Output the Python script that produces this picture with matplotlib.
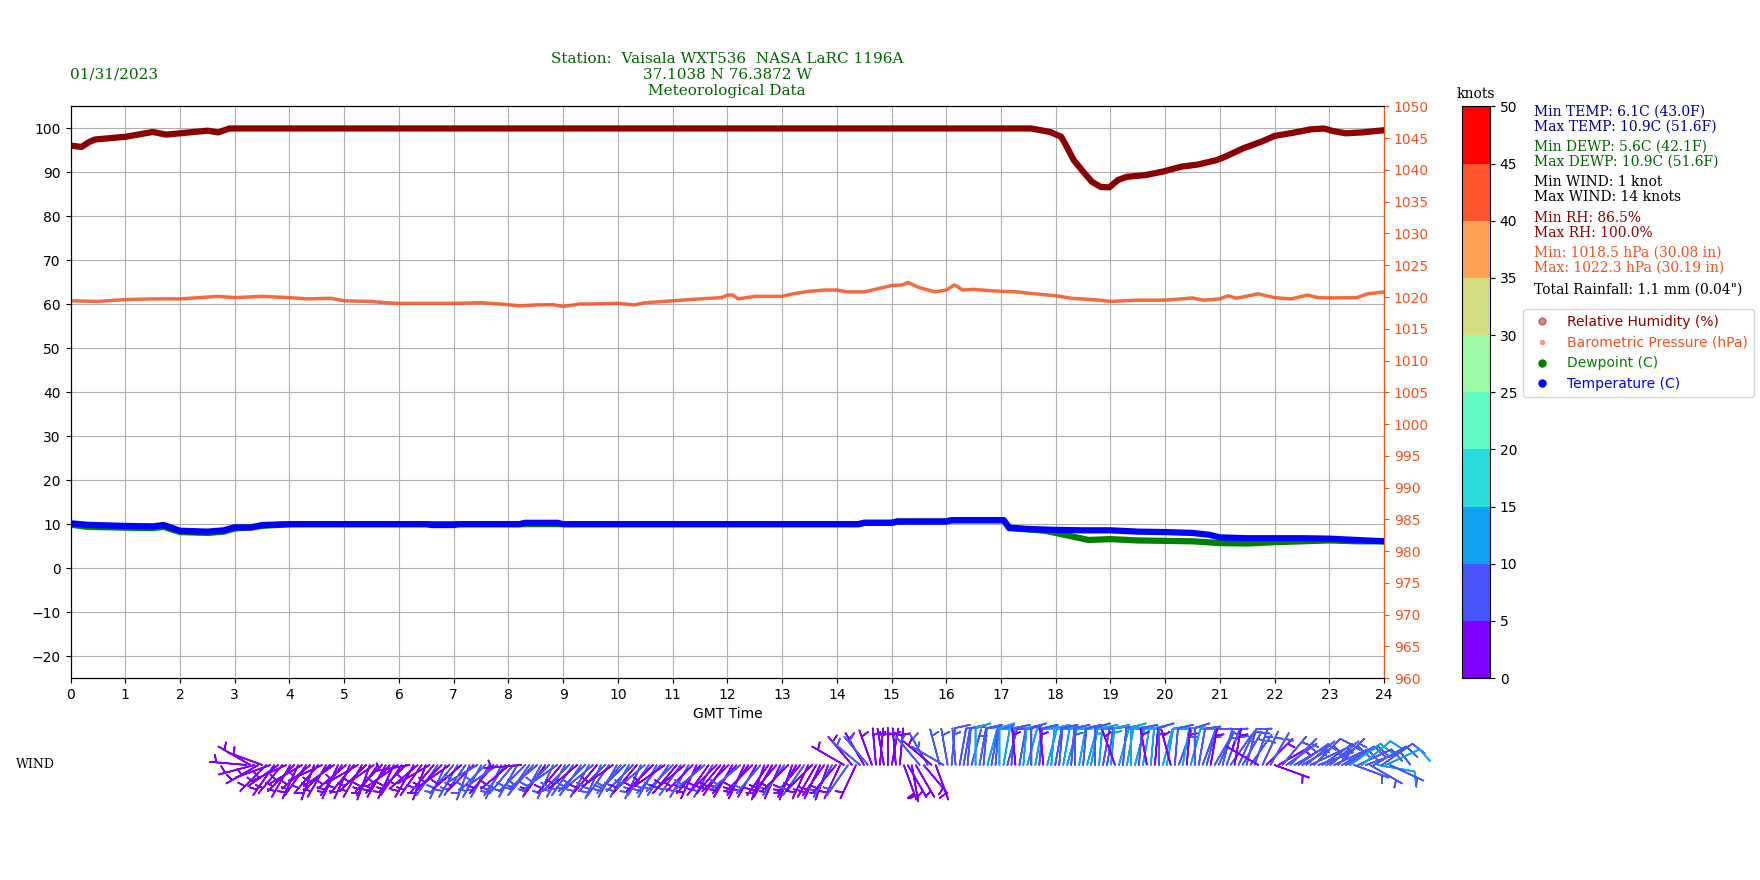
import numpy as np
import matplotlib
matplotlib.use('Agg')
import matplotlib.pyplot as plt
from matplotlib.colors import ListedColormap, BoundaryNorm
from matplotlib.cm import ScalarMappable
from matplotlib.lines import Line2D

# relative humidity (%)
rh_time = [0, 0.2, 0.35, 0.45, 1.0, 1.5, 1.75, 2.0, 2.5, 2.7, 2.9, 17.55, 17.9, 18.1, 18.17,
           18.33, 18.5, 18.66, 18.82, 18.98, 19.14, 19.3, 19.64, 19.96, 20.29, 20.6, 20.94,
           21.1, 21.43, 21.76, 22.0, 22.33, 22.66, 22.9, 23.07, 23.3, 23.6, 24.0]
rh_val = [96.1, 95.8, 97.0, 97.5, 98.1, 99.2, 98.6, 98.9, 99.5, 99.1, 100, 100, 99.2, 98.1, 96.6,
          92.8, 90.2, 87.9, 86.7, 86.6, 88.3, 89.0, 89.4, 90.2, 91.3, 91.8, 92.8,
          93.6, 95.5, 97.0, 98.3, 99.0, 99.8, 100, 99.4, 98.9, 99.1, 99.6]

# barometric pressure (hPa)
p_time = [0, 0.5, 1.0, 1.5, 2.0, 2.7, 3.0, 3.5, 4.0, 4.3, 4.75, 5.0, 5.5, 5.75, 6.0, 7.0, 7.5,
          8.0, 8.2, 8.5, 8.8, 9.0, 9.3, 9.5, 10.0, 10.3, 10.5, 11.0, 11.5, 11.9, 12.0, 12.1,
          12.2, 12.5, 13.0, 13.2, 13.5, 13.8, 14.0, 14.2, 14.5, 14.7, 15.0, 15.2, 15.3, 15.5,
          15.8, 16.0, 16.15, 16.3, 16.5, 16.8, 17.0, 17.3, 17.5, 18.0, 18.3, 18.8, 19.0, 19.5,
          20.0, 20.5, 20.7, 21.0, 21.15, 21.3, 21.7, 22.0, 22.3, 22.6, 22.8, 23.0, 23.5, 23.7, 24.0]
p_val = [1019.4, 1019.3, 1019.6, 1019.7, 1019.7, 1020.1, 1019.9, 1020.1, 1019.9, 1019.7, 1019.8,
         1019.4, 1019.3, 1019.1, 1019.0, 1019.0, 1019.1, 1018.8, 1018.6, 1018.75, 1018.8, 1018.5,
         1018.9, 1018.9, 1019.0, 1018.75, 1019.1, 1019.4, 1019.7, 1019.9, 1020.3, 1020.3,
         1019.7, 1020.1, 1020.1, 1020.5, 1020.9, 1021.1, 1021.1, 1020.8, 1020.8, 1021.2, 1021.8,
         1021.9, 1022.3, 1021.5, 1020.8, 1021.1, 1021.9, 1021.1, 1021.2, 1021.0, 1020.9,
         1020.8, 1020.6, 1020.2, 1019.8, 1019.5, 1019.3, 1019.5, 1019.5, 1019.85, 1019.5,
         1019.7, 1020.2, 1019.8, 1020.5, 1019.9, 1019.7, 1020.3, 1019.9, 1019.85, 1019.9,
         1020.5, 1020.8]

# temperature (C)
t_time = [0, 0.3, 1.0, 1.5, 1.7, 2.0, 2.5, 2.8, 3.0, 3.3, 3.5, 4.0, 6.5, 6.6, 7.0, 7.1, 8.2, 8.3,
          8.9, 9.0, 14.4, 14.5, 15.0, 15.1, 16.0, 16.1, 17.05, 17.15, 17.5, 18.0, 18.5, 19.0,
          19.5, 20.0, 20.5, 20.8, 21.0, 21.5, 22.0, 22.5, 23.0, 23.5, 24.0]
t_val = [10.2, 9.85, 9.6, 9.5, 9.8, 8.5, 8.3, 8.6, 9.3, 9.2, 9.8, 10.0, 10.0, 9.8, 9.8, 10.0,
         10.0, 10.3, 10.3, 10.0, 10.0, 10.3, 10.3, 10.6, 10.6, 10.9, 10.9, 9.2, 8.9, 8.7, 8.6,
         8.6, 8.3, 8.2, 8.0, 7.6, 7.0, 6.8, 6.8, 6.8, 6.7, 6.4, 6.1]

# dewpoint (C)
d_time = [0, 0.3, 1.0, 1.5, 1.7, 2.0, 2.5, 2.8, 3.0, 3.5, 4.0, 14.4, 14.5, 15.0, 15.1, 16.0,
          16.1, 17.05, 17.15, 17.5, 17.8, 18.0, 18.3, 18.6, 19.0, 19.5, 20.0, 20.5, 21.0,
          21.5, 22.0, 22.5, 23.0, 23.5, 24.0]
d_val = [9.9, 9.4, 9.2, 9.1, 9.4, 8.2, 8.0, 8.3, 9.0, 9.6, 10.0, 10.0, 10.3, 10.3, 10.6, 10.6,
         10.9, 10.9, 9.1, 8.8, 8.5, 8.0, 7.2, 6.4, 6.6, 6.3, 6.2, 6.1, 5.7, 5.6, 5.9, 6.1,
         6.3, 6.1, 6.1]

# wind every 5 minutes (one row per hour): direction (deg, from) and speed (knots)
wind_dir = [275, 300, 255, 240, 290, 225, 250, 215, 235, 220, 245, 210,
            225, 205, 240, 215, 230, 200, 220, 245, 210, 225, 235, 205,
            215, 230, 205, 220, 240, 210, 225, 200, 235, 215, 225, 210,
            220, 205, 235, 215, 225, 260, 210, 230, 215, 200, 240, 220,
            215, 225, 205, 235, 220, 210, 230, 215, 200, 225, 240, 210,
            225, 210, 220, 235, 205, 215, 230, 220, 210, 265, 225, 215,
            220, 230, 210, 215, 225, 205, 235, 220, 210, 225, 215, 230,
            215, 225, 210, 230, 220, 205, 225, 215, 235, 210, 220, 225,
            210, 225, 220, 205, 230, 215, 225, 210, 220, 235, 215, 225,
            220, 215, 230, 210, 225, 205, 220, 230, 215, 210, 225, 220,
            215, 225, 210, 220, 230, 205, 215, 225, 210, 220, 200, 215,
            210, 220, 205, 215, 225, 200, 210, 220, 215, 205, 225, 210,
            205, 215, 200, 210, 220, 205, 300, 215, 320, 205, 310, 330,
            320, 340, 355, 5, 350, 0, 10, 355, 5, 160, 150, 170,
            150, 320, 140, 330, 310, 160, 345, 300, 350, 5, 355, 10,
            10, 5, 15, 0, 10, 5, 15, 10, 5, 0, 10, 15,
            5, 355, 10, 5, 15, 0, 10, 5, 355, 15, 5, 10,
            5, 10, 15, 5, 0, 10, 5, 15, 10, 0, 5, 10,
            10, 5, 340, 15, 5, 10, 0, 15, 5, 10, 350, 5,
            5, 0, 15, 10, 345, 5, 20, 10, 5, 15, 0, 10,
            20, 15, 10, 30, 25, 15, 20, 35, 10, 25, 30, 15,
            35, 20, 300, 25, 45, 30, 110, 60, 40, 55, 45, 60,
            55, 60, 50, 65, 45, 70, 55, 60, 50, 65, 45, 60,
            60, 55, 110, 65, 50, 70, 120, 60, 100, 55, 65, 115]
wind_spd = [3, 4, 3, 4, 3, 4, 3, 4, 4, 3, 4, 3,
            4, 3, 4, 4, 3, 4, 3, 4, 4, 3, 4, 4,
            3, 4, 4, 3, 4, 4, 3, 4, 3, 4, 4, 3,
            4, 3, 4, 4, 3, 4, 4, 3, 4, 4, 3, 4,
            5, 4, 6, 4, 5, 6, 4, 5, 6, 4, 5, 6,
            6, 5, 4, 6, 5, 6, 4, 5, 6, 4, 5, 6,
            5, 6, 5, 4, 6, 5, 6, 4, 5, 6, 5, 4,
            6, 5, 6, 5, 4, 6, 5, 6, 4, 5, 6, 5,
            5, 6, 4, 5, 6, 5, 4, 6, 5, 4, 6, 5,
            4, 5, 4, 6, 4, 3, 4, 5, 4, 6, 4, 3,
            4, 3, 4, 4, 5, 4, 3, 4, 4, 5, 4, 3,
            4, 4, 3, 5, 4, 4, 3, 4, 5, 4, 3, 4,
            4, 3, 4, 5, 4, 3, 4, 5, 3, 4, 5, 4,
            5, 4, 3, 4, 3, 4, 3, 4, 3, 3, 4, 3,
            4, 5, 3, 6, 4, 3, 5, 6, 7, 8, 6, 8,
            8, 9, 7, 10, 8, 9, 11, 9, 8, 10, 12, 9,
            8, 4, 9, 12, 10, 8, 11, 9, 4, 10, 12, 9,
            8, 10, 12, 9, 7, 11, 9, 13, 10, 8, 12, 9,
            9, 14, 4, 10, 8, 12, 10, 11, 9, 12, 4, 10,
            4, 8, 10, 11, 3, 9, 7, 12, 4, 10, 8, 9,
            7, 8, 4, 9, 6, 8, 5, 7, 4, 8, 6, 9,
            5, 6, 4, 6, 3, 5, 3, 4, 5, 6, 5, 6,
            6, 8, 5, 7, 9, 6, 7, 8, 6, 9, 7, 8,
            8, 10, 7, 9, 11, 8, 6, 9, 10, 8, 11, 7]

rh_color = 'darkred'
p_color = '#f4511e'
serif = 'DejaVu Serif'

fig = plt.figure(figsize=(17.6, 8.8), dpi=100)
ax = fig.add_axes([0.0401, 0.2295, 0.7463, 0.6495])
ax2 = ax.twinx()

ax.plot(rh_time, rh_val, color=rh_color, lw=4.5, solid_capstyle='round')
ax.plot(d_time, d_val, color='green', lw=4.5, solid_capstyle='round')
ax.plot(t_time, t_val, color='blue', lw=4.5, solid_capstyle='round')
ax2.plot(p_time, p_val, color=p_color, lw=2.5, alpha=0.85, solid_capstyle='round')

ax.set_xlim(0, 24)
ax.set_ylim(-25, 105)
ax.set_xticks(range(0, 25))
ax.set_yticks(range(-20, 101, 10))
ax.grid(True)
ax.set_xlabel('GMT Time')
ax2.set_ylim(960, 1050)
ax2.set_yticks(range(960, 1051, 5))
ax2.tick_params(axis='y', colors=p_color)
ax2.spines['right'].set_color(p_color)

title_lines = ['Station:  Vaisala WXT536  NASA LaRC 1196A', '37.1038 N 76.3872 W',
               'Meteorological Data']
for i, line in enumerate(title_lines):
    fig.text(0.4131, 1 - (59 + 16 * i) / 880, line, family=serif, fontsize=11,
             color='darkgreen', ha='center', va='center')
fig.text(70 / 1760, 1 - 74 / 880, '01/31/2023', family=serif, fontsize=11,
         color='darkgreen', va='center')

# wind speed colour scale
cmap = ListedColormap(plt.cm.rainbow(np.linspace(0, 1, 10)))
norm = BoundaryNorm(np.arange(0, 55, 5), cmap.N)
cax = fig.add_axes([0.8307, 0.2295, 0.0159, 0.6495])
fig.colorbar(ScalarMappable(norm=norm, cmap=cmap), cax=cax, ticks=range(0, 55, 5))
cax.set_title('knots', family=serif, fontsize=10)

stats = [('Min TEMP: 6.1C (43.0F)', 112, 'darkblue'), ('Max TEMP: 10.9C (51.6F)', 127, 'darkblue'),
         ('Min DEWP: 5.6C (42.1F)', 147, 'darkgreen'), ('Max DEWP: 10.9C (51.6F)', 162, 'darkgreen'),
         ('Min WIND: 1 knot', 182, 'black'), ('Max WIND: 14 knots', 197, 'black'),
         ('Min RH: 86.5%', 218, 'darkred'), ('Max RH: 100.0%', 233, 'darkred'),
         ('Min: 1018.5 hPa (30.08 in)', 253, p_color), ('Max: 1022.3 hPa (30.19 in)', 268, p_color),
         ('Total Rainfall: 1.1 mm (0.04")', 290, 'black')]
for txt, y, c in stats:
    fig.text(1534 / 1760, 1 - y / 880, txt, family=serif, fontsize=10, color=c, va='center')

handles = [Line2D([], [], ls='none', marker='o', ms=5, color=rh_color, alpha=0.45),
           Line2D([], [], ls='none', marker='o', ms=3, color=p_color, alpha=0.5),
           Line2D([], [], ls='none', marker='o', ms=5, color='green'),
           Line2D([], [], ls='none', marker='o', ms=5, color='blue')]
labels = ['Relative Humidity (%)', 'Barometric Pressure (hPa)', 'Dewpoint (C)', 'Temperature (C)']
fig.legend(handles, labels, loc='upper left', bbox_to_anchor=(1516 / 1760, 1 - 302 / 880),
           labelcolor=[rh_color, p_color, 'green', 'blue'])

# wind barbs strip
wax = fig.add_axes([0.14, 0.0807, 0.652, 0.1])
wt = np.arange(len(wind_dir)) / 12.0
wd = np.radians(wind_dir)
ws = np.array(wind_spd, dtype=float)
u = -ws * np.sin(wd)
v = -ws * np.cos(wd)
wax.barbs(wt, np.zeros_like(wt), u, v, ws, cmap=cmap, norm=norm, length=7.3, linewidth=1.2,
          clip_on=False)
wax.set_xlim(0, 24)
wax.set_ylim(-1, 1)
wax.axis('off')
fig.text(16 / 1760, 1 - 765 / 880, 'WIND', family=serif, fontsize=9, va='center')

fig.savefig('out.png', dpi=100)
